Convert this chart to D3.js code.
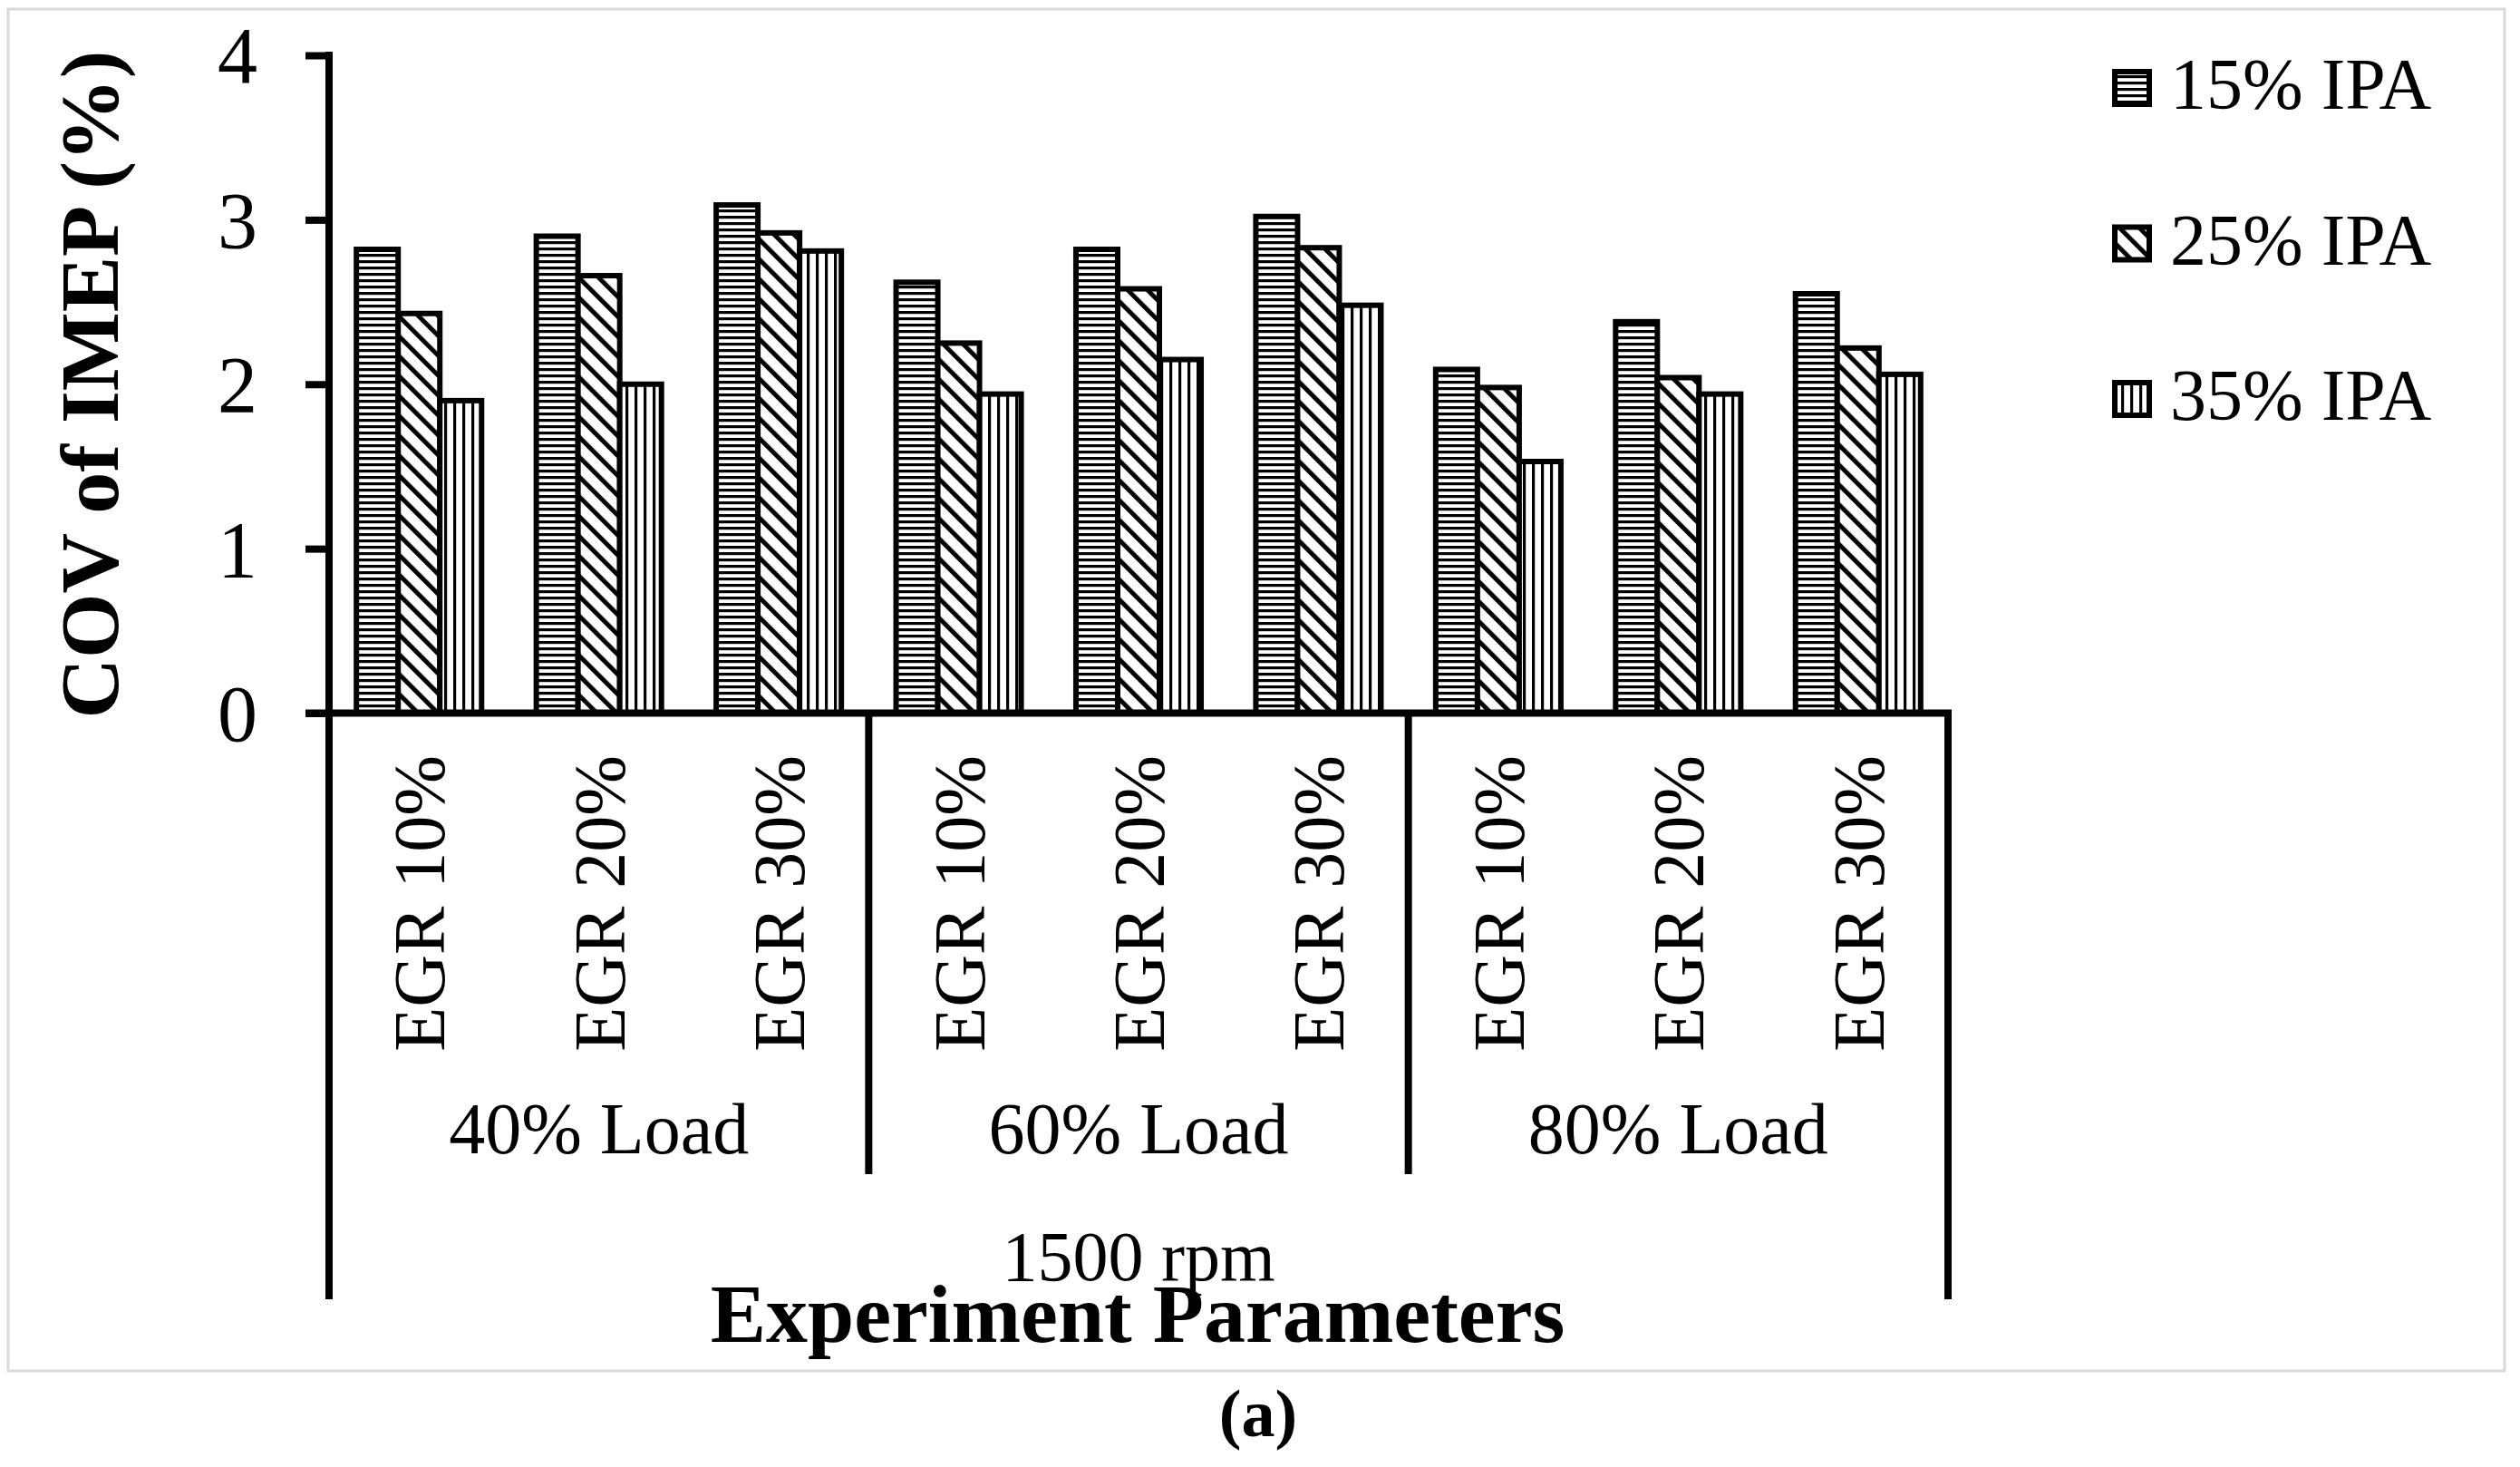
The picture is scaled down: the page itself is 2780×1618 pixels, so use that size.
<!DOCTYPE html>
<html>
<head>
<meta charset="utf-8">
<script src="https://cdn.jsdelivr.net/npm/d3@7"></script>
<style>
  html, body { margin: 0; padding: 0; background: #ffffff; }
  svg { display: block; }
  text { font-family: "Liberation Serif", "Times New Roman", Times, serif; fill: #000; }
</style>
</head>
<body>
<svg id="chart" width="2780" height="1618"></svg>
<script>
// ---------------- data ----------------
const loadLevels = ["40% Load", "60% Load", "80% Load"];
const egrLevels = ["EGR 10%", "EGR 20%", "EGR 30%"];
const speedLabel = "1500 rpm";
const seriesNames = ["15% IPA", "25% IPA", "35% IPA"];
const ipa15 = [2.82, 2.90, 3.09, 2.62, 2.82, 3.02, 2.09, 2.38, 2.55];
const ipa25 = [2.43, 2.66, 2.92, 2.25, 2.58, 2.83, 1.98, 2.04, 2.22];
const ipa35 = [1.90, 2.00, 2.81, 1.94, 2.15, 2.48, 1.53, 1.94, 2.06];
const yTicks = [0, 1, 2, 3, 4];
const yTitle = "COV of IMEP (%)";
const xTitle = "Experiment Parameters";
const caption = "(a)";

// ---------------- layout ----------------
const W = 2780, H = 1618;
const plotLeft = 363, plotRight = 2149, plotTop = 61, plotBottom = 786.5;
const outerAxisBottom = 1433, innerSepBottom = 1295;
const axisW = 8, barStroke = 6;
const serif = '"Liberation Serif", "Times New Roman", Times, serif';

const svg = d3.select("#chart");

// categories
const cats = [];
loadLevels.forEach((l, li) => egrLevels.forEach((e, ei) => cats.push({ key: l + "|" + e, load: l, egr: e, idx: li * 3 + ei })));
const seriesVals = [ipa15, ipa25, ipa35];

const x0 = d3.scaleBand().domain(cats.map(c => c.key)).range([plotLeft, plotRight]).paddingInner(0).paddingOuter(0);
const x1 = d3.scaleBand().domain(seriesNames).range([0, x0.bandwidth()]).paddingInner(0).paddingOuter(0.656);
const y = d3.scaleLinear().domain([0, 4]).range([plotBottom, plotTop]);

// ---------------- patterns ----------------
const defs = svg.append("defs");
const pH = defs.append("pattern").attr("id", "pat0").attr("patternUnits", "userSpaceOnUse")
  .attr("width", 7).attr("height", 7);
pH.append("rect").attr("width", 7).attr("height", 7).attr("fill", "#fff");
pH.append("rect").attr("y", 0).attr("width", 7).attr("height", 3.2).attr("fill", "#000");

const pD = defs.append("pattern").attr("id", "pat1").attr("patternUnits", "userSpaceOnUse")
  .attr("width", 15.5).attr("height", 15.5).attr("patternTransform", "rotate(-45)");
pD.append("rect").attr("width", 15.5).attr("height", 15.5).attr("fill", "#fff");
pD.append("rect").attr("x", 0).attr("width", 5).attr("height", 15.5).attr("fill", "#000");

const pV = defs.append("pattern").attr("id", "pat2").attr("patternUnits", "userSpaceOnUse")
  .attr("width", 10).attr("height", 10);
pV.append("rect").attr("width", 10).attr("height", 10).attr("fill", "#fff");
pV.append("rect").attr("x", 0).attr("width", 3.2).attr("height", 10).attr("fill", "#000");

// ---------------- outer frame ----------------
svg.append("rect").attr("x", 9).attr("y", 10).attr("width", 2754).attr("height", 1502)
  .attr("fill", "#fff").attr("stroke", "#d9d9d9").attr("stroke-width", 3);

// ---------------- bars ----------------
const barData = [];
cats.forEach(c => seriesNames.forEach((s, si) => barData.push({ cat: c.key, s, si, v: seriesVals[si][c.idx] })));

svg.append("g").selectAll("rect").data(barData).join("rect")
  .attr("x", d => x0(d.cat) + x1(d.s))
  .attr("y", d => y(d.v))
  .attr("width", x1.bandwidth())
  .attr("height", d => y(0) - y(d.v))
  .attr("fill", d => `url(#pat${d.si})`)
  .attr("stroke", "#000")
  .attr("stroke-width", barStroke);

// ---------------- y axis ----------------
const yAxis = d3.axisLeft(y).tickValues(yTicks).tickFormat(d3.format("d"))
  .tickSize(26).tickSizeOuter(0).tickPadding(53);
const gy = svg.append("g").attr("transform", `translate(${plotLeft},0)`).call(yAxis);
gy.select(".domain").remove();
gy.selectAll(".tick line").attr("stroke", "#000").attr("stroke-width", axisW);
gy.selectAll(".tick text").attr("font-family", serif).attr("font-size", 88).attr("fill", "#000").attr("dy", "0.34em");

// x axis baseline
svg.append("line").attr("x1", plotLeft - 26).attr("x2", plotRight + axisW / 2)
  .attr("y1", y(0)).attr("y2", y(0)).attr("stroke", "#000").attr("stroke-width", axisW);
// y axis vertical line (continues down as multi-level category border)
svg.append("line").attr("x1", plotLeft).attr("x2", plotLeft)
  .attr("y1", plotTop - axisW / 2).attr("y2", outerAxisBottom).attr("stroke", "#000").attr("stroke-width", axisW);
svg.append("line").attr("x1", plotRight).attr("x2", plotRight)
  .attr("y1", y(0)).attr("y2", outerAxisBottom).attr("stroke", "#000").attr("stroke-width", axisW);
// group separators
loadLevels.slice(1).forEach((l, i) => {
  const xs = x0(l + "|" + egrLevels[0]);
  svg.append("line").attr("x1", xs).attr("x2", xs).attr("y1", y(0)).attr("y2", innerSepBottom)
    .attr("stroke", "#000").attr("stroke-width", axisW);
});

// category labels (rotated)
svg.append("g").selectAll("text").data(cats).join("text")
  .attr("transform", d => `translate(${x0(d.key) + x0.bandwidth() / 2},833) rotate(-90)`)
  .attr("text-anchor", "end").attr("dy", "0.35em")
  .attr("font-size", 80)
  .text(d => d.egr);

// load labels
svg.append("g").selectAll("text").data(loadLevels).join("text")
  .attr("x", (l) => {
    const a = x0(l + "|" + egrLevels[0]);
    const b = x0(l + "|" + egrLevels[egrLevels.length - 1]) + x0.bandwidth();
    return (a + b) / 2;
  })
  .attr("y", 1272).attr("text-anchor", "middle").attr("font-size", 80)
  .text(d => d);

// speed label
svg.append("text").attr("x", (plotLeft + plotRight) / 2).attr("y", 1412)
  .attr("text-anchor", "middle").attr("font-size", 78).text(speedLabel);

// axis titles
svg.append("text").attr("x", 1255).attr("y", 1480).attr("text-anchor", "middle")
  .attr("font-size", 92).attr("font-weight", "bold").text(xTitle);
svg.append("text").attr("transform", "translate(130,424) rotate(-90)").attr("text-anchor", "middle")
  .attr("font-size", 92).attr("font-weight", "bold").text(yTitle);

// caption
svg.append("text").attr("x", 1388).attr("y", 1584).attr("text-anchor", "middle")
  .attr("font-size", 74).attr("font-weight", "bold").text(caption);

// ---------------- legend ----------------
const legendY = d3.scalePoint().domain(seriesNames).range([97, 440]);
const lg = svg.append("g").selectAll("g").data(seriesNames).join("g")
  .attr("transform", d => `translate(2330,${legendY(d)})`);
lg.append("rect").attr("x", 3).attr("y", -18).attr("width", 38).attr("height", 36)
  .attr("fill", (d, i) => `url(#pat${i})`).attr("stroke", "#000").attr("stroke-width", 6);
lg.append("text").attr("x", 64).attr("y", 23).attr("font-size", 80).text(d => d);
</script>
</body>
</html>
